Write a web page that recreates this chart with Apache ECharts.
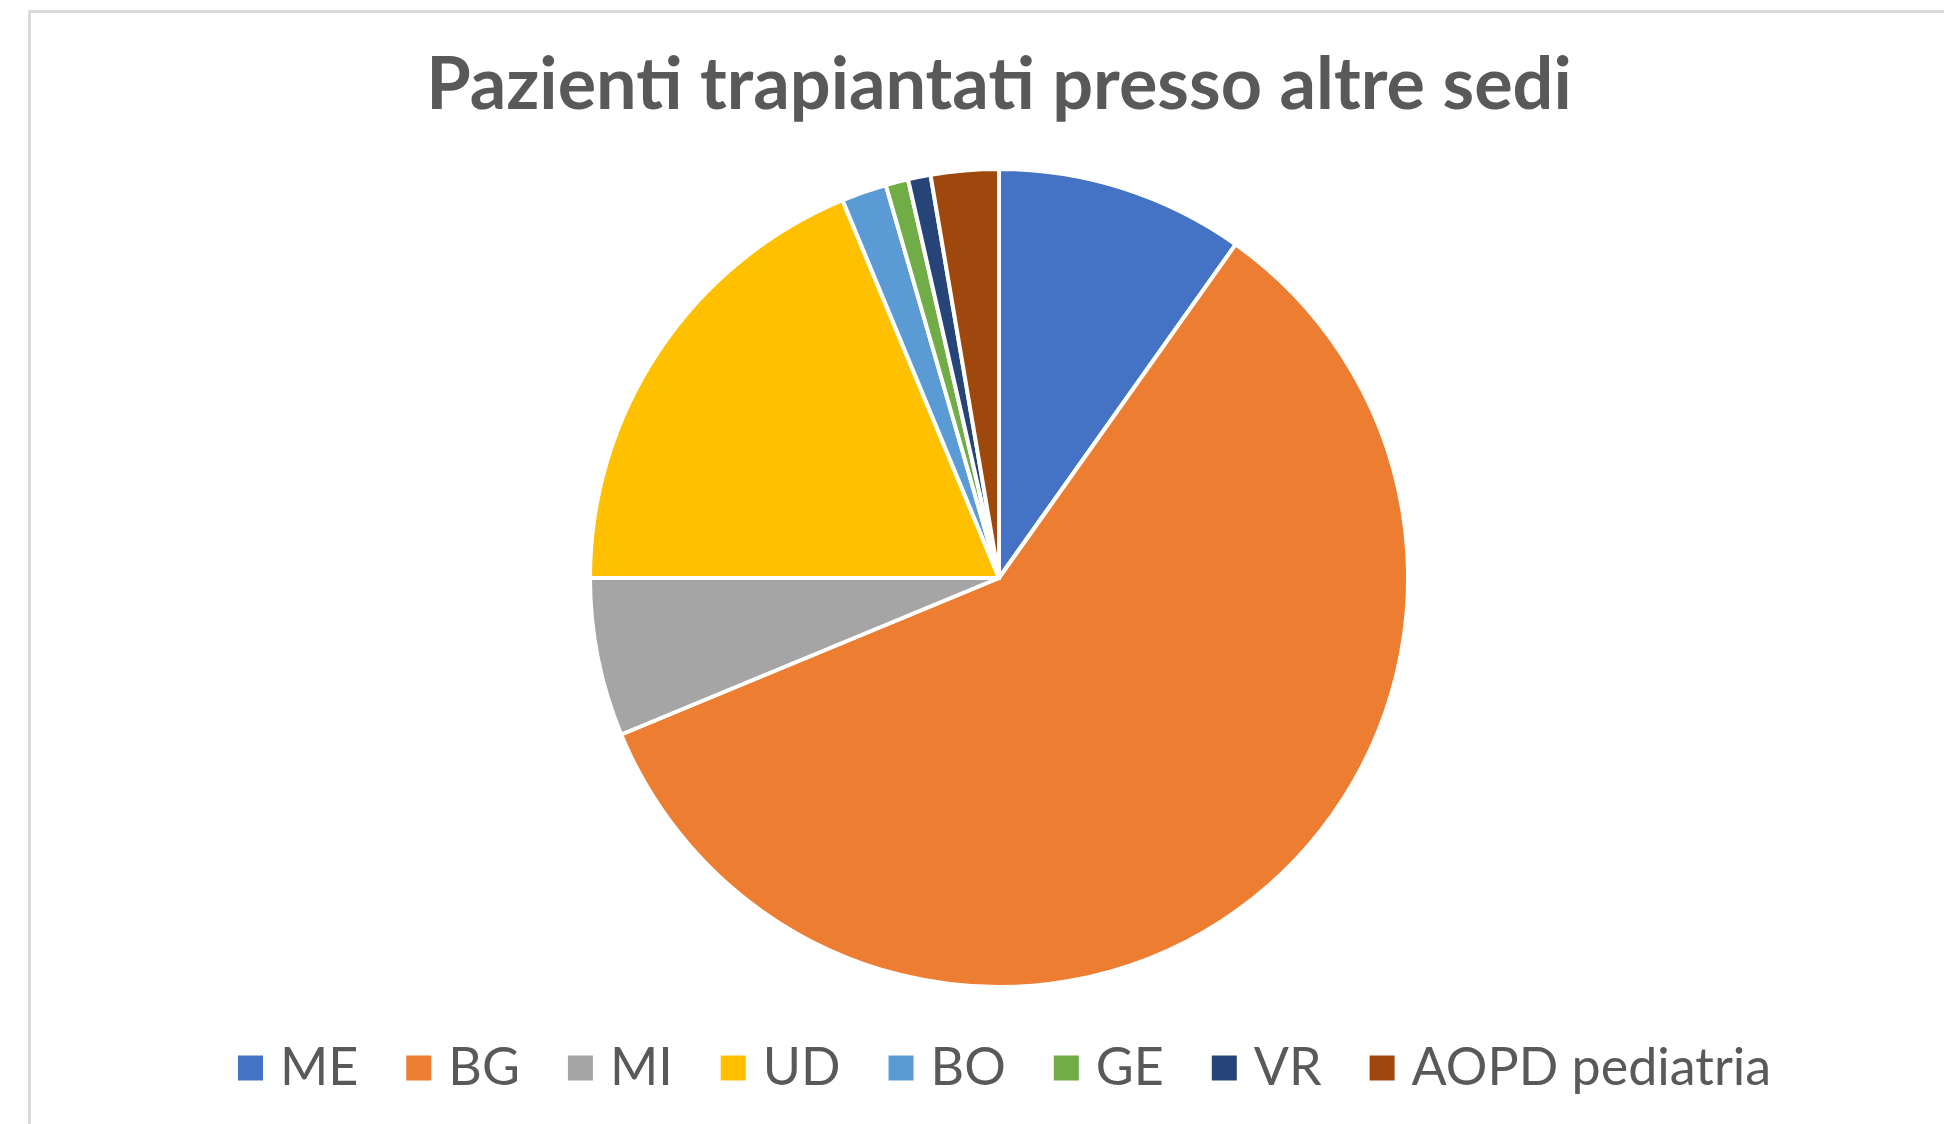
<!DOCTYPE html>
<html>
<head>
<meta charset="utf-8">
<script src="https://cdn.jsdelivr.net/npm/echarts@6/dist/echarts.min.js"></script>
<style>
  html, body { margin: 0; padding: 0; background: #fff; overflow: hidden; }
  #frame { position: absolute; left: 28px; top: 10px; width: 2100px; height: 1300px; border: 3px solid #d9d9d9; box-sizing: border-box; }
  #chart { position: absolute; left: 0; top: 0; width: 1944px; height: 1124px; }
</style>
</head>
<body>
<div id="frame"></div>
<div id="chart"></div>
<script>
const titleText = 'Pazienti trapiantati presso altre sedi';
const categories = ['ME', 'BG', 'MI', 'UD', 'BO', 'GE', 'VR', 'AOPD pediatria'];
const values = [11, 66, 7, 21, 2, 1, 1, 3];
const colors = ['#4472C4', '#ED7D31', '#A5A5A5', '#FFC000', '#5B9BD5', '#70AD47', '#264478', '#9E480E'];

const chart = echarts.init(document.getElementById('chart'), null, { renderer: 'canvas' });
chart.setOption({
  animation: false,
  color: colors,
  graphic: [{
    type: 'text',
    x: 999,
    y: 50,
    style: {
      text: titleText,
      align: 'center',
      verticalAlign: 'top',
      fontFamily: 'Lato',
      fontWeight: 'bold',
      fontSize: 72,
      fill: '#595959'
    }
  }],
  legend: {
    data: categories,
    left: 236,
    top: 1042,
    padding: 0,
    icon: 'rect',
    itemWidth: 27,
    itemHeight: 27,
    itemGap: 46,
    textStyle: { fontFamily: 'Lato', fontSize: 52, color: '#595959', padding: [0, 0, 0, 11] }
  },
  series: [{
    type: 'pie',
    center: [999, 578],
    radius: 409,
    startAngle: 90,
    clockwise: true,
    label: { show: false },
    labelLine: { show: false },
    itemStyle: { borderColor: '#ffffff', borderWidth: 4 },
    data: categories.map((c, i) => ({ name: c, value: values[i] }))
  }]
});
</script>
</body>
</html>
